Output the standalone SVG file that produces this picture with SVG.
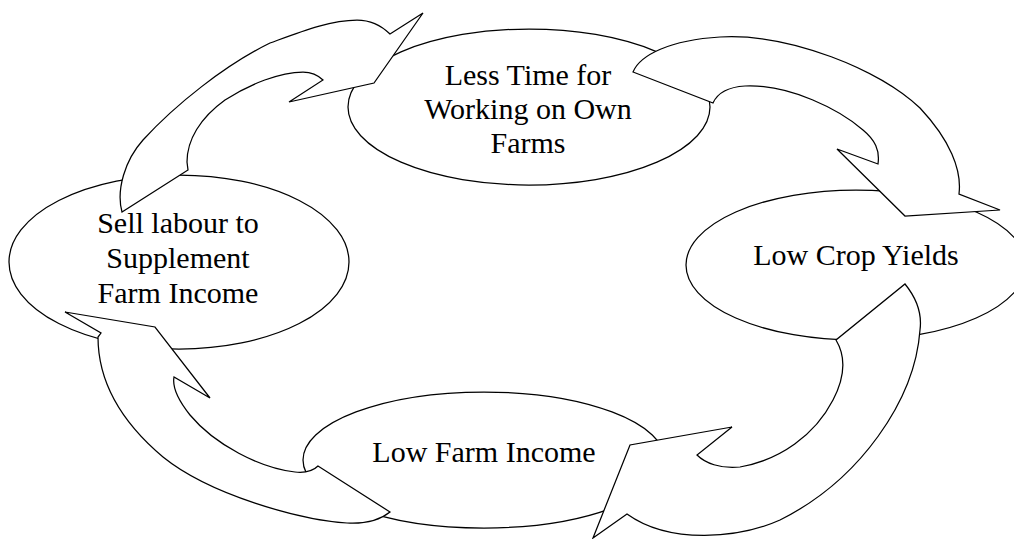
<svg xmlns="http://www.w3.org/2000/svg" width="1014" height="539" viewBox="0 0 1014 539">
  <style>
    .node { fill: #ffffff; stroke: #000000; stroke-width: 1.25; }
    .arrow { fill: #ffffff; stroke: #000000; stroke-width: 1.25; stroke-linejoin: miter; }
    .label { font-family: "Liberation Serif", "Times New Roman", serif; font-size: 30px; fill: #000000; text-anchor: middle; }
  </style>
  <rect width="1014" height="539" fill="#ffffff"/>

  <!-- Cycle stages -->
  <g id="node-less-time">
    <ellipse class="node" cx="529" cy="107" rx="181" ry="78"/>
    <text class="label" x="528" y="85">Less Time for</text>
    <text class="label" x="528" y="119">Working on Own</text>
    <text class="label" x="528" y="153">Farms</text>
  </g>
  <g id="node-low-crop-yields">
    <ellipse class="node" cx="856" cy="265" rx="170" ry="75"/>
    <text class="label" x="856" y="265">Low Crop Yields</text>
  </g>
  <g id="node-low-farm-income">
    <ellipse class="node" cx="484" cy="460" rx="181" ry="68"/>
    <text class="label" x="484" y="462">Low Farm Income</text>
  </g>
  <g id="node-sell-labour">
    <ellipse class="node" cx="179" cy="262" rx="170" ry="87"/>
    <text class="label" x="178" y="233">Sell labour to</text>
    <text class="label" x="178" y="268">Supplement</text>
    <text class="label" x="178" y="303">Farm Income</text>
  </g>

  <!-- Curved block arrows linking the stages clockwise -->
  <g id="connectors">
    <path id="arrow-sell-to-less-time" class="arrow"
          d="M122,212 C116,190 125,160 143,140 C175,105 225,65 270,43 C300,32 330,20 357,20 C372,20 383,27 390,34 L423,13 L374,83 L289,102 L323,80 C318,75 312,72 303,72 C280,72 250,84 225,100 C200,118 187,140 187,162 L188,170 Z"/>
    <path id="arrow-less-time-to-yields" class="arrow"
          d="M633,72 C640,55 670,40 720,37 C790,33 880,70 920,108 C950,140 962,170 959,194 L1000,210 L905,216 L837,149 L878,164 C880,150 875,140 863,130 C840,110 790,84 745,86 C728,87 718,92 713,103 Z"/>
    <path id="arrow-yields-to-income" class="arrow"
          d="M905,284 C918,300 922,315 920,330 C915,400 860,480 780,520 C740,538 670,545 627,514 L593,538 L630,445 L732,427 L697,455 C705,463 720,469 740,467 C780,460 815,435 833,400 C846,375 845,355 836,340 Z"/>
    <path id="arrow-income-to-sell" class="arrow"
          d="M390,512 C380,520 365,524 347,523 C300,520 210,495 163,457 C125,425 98,385 98,337 L101,333 L65,312 L155,327 L210,398 L174,377 C172,388 178,400 190,415 C215,445 260,468 295,472 C305,473 312,472 318,466 Z"/>
  </g>
</svg>
